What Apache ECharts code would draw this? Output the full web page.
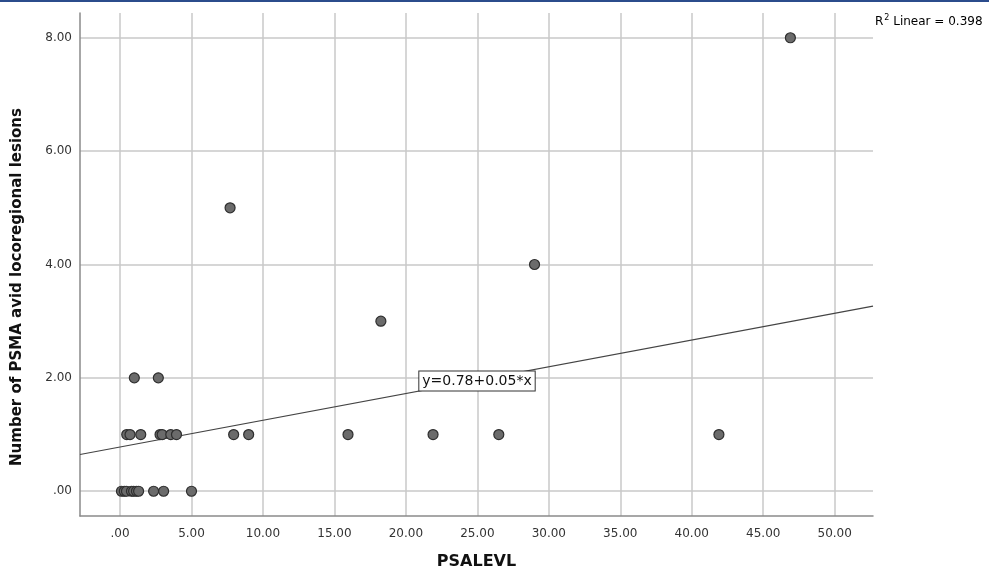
<!DOCTYPE html>
<html>
<head>
<meta charset="utf-8">
<script src="https://cdn.jsdelivr.net/npm/echarts@6/dist/echarts.min.js"></script>
<style>
  html, body { margin: 0; padding: 0; background: #fff; }
  #main { width: 989px; height: 575px; }
</style>
</head>
<body>
<div id="main"></div>
<script>
// PSA level (x) for each patient
var psaLevel = [
  0.1, 0.3, 0.45, 0.8, 0.95, 1.15, 1.3, 2.35, 3.05, 5.0,
  0.47, 0.7, 1.45, 2.8, 2.95, 3.55, 3.95, 7.95, 9.0, 15.95, 21.9, 26.5, 41.9,
  1.0, 2.68,
  18.25, 29.0, 7.7, 46.9
];
// number of lesions (y) for each patient
var lesions = [
  0, 0, 0, 0, 0, 0, 0, 0, 0, 0,
  1, 1, 1, 1, 1, 1, 1, 1, 1, 1, 1, 1, 1,
  2, 2,
  3, 4, 5, 8
];
var xTicks = [0, 5, 10, 15, 20, 25, 30, 35, 40, 45, 50];
var yTicks = [0, 2, 4, 6, 8];
var fitIntercept = 0.78;
var fitSlope = 0.0472;
var fitLabel = 'y=0.78+0.05*x';
var r2Label = '0.398';

var xMin = -2.8, xMax = 52.68;
var yMin = -0.437, yMax = 8.437;

var points = [];
for (var i = 0; i < psaLevel.length; i++) {
  points.push([psaLevel[i], lesions[i]]);
}
var fitLine = [
  [xMin, fitIntercept + fitSlope * xMin],
  [xMax, fitIntercept + fitSlope * xMax]
];

function fmt(v) {
  var s = v.toFixed(2);
  if (s.indexOf('0.') === 0) s = s.substring(1);
  return s;
}

var font = 'DejaVu Sans';
var chart = echarts.init(document.getElementById('main'));
var option = {
  backgroundColor: '#fff',
  animation: false,
  grid: { left: 80, right: 116, top: 13, bottom: 54 },
  xAxis: {
    type: 'value',
    min: xMin,
    max: xMax,
    name: 'PSALEVL',
    nameLocation: 'middle',
    nameGap: 38,
    nameTextStyle: { fontFamily: font, fontWeight: 'bold', fontSize: 16, color: '#111' },
    axisLine: { onZero: false, lineStyle: { color: '#8a8a8a', width: 1.5 } },
    axisTick: { show: false, customValues: xTicks },
    axisLabel: { customValues: xTicks, formatter: fmt, fontFamily: font, fontSize: 12, color: '#333', margin: 12 },
    splitLine: { show: true, lineStyle: { color: '#c8c8c8', width: 1.5 } }
  },
  yAxis: {
    type: 'value',
    min: yMin,
    max: yMax,
    axisLine: { show: true, onZero: false, lineStyle: { color: '#8a8a8a', width: 1.5 } },
    axisTick: { show: false, customValues: yTicks },
    axisLabel: { customValues: yTicks, formatter: fmt, fontFamily: font, fontSize: 12, color: '#333', margin: 8 },
    splitLine: { show: true, lineStyle: { color: '#c8c8c8', width: 1.5 } }
  },
  series: [
    {
      type: 'line',
      data: fitLine,
      symbol: 'none',
      lineStyle: { color: '#444', width: 1.2 },
      silent: true,
      z: 2
    },
    {
      type: 'scatter',
      data: points,
      symbolSize: 10,
      itemStyle: { color: '#6b6b6b', borderColor: '#2e2e2e', borderWidth: 1.2, opacity: 1 },
      z: 3
    }
  ],
  graphic: [
    // blue strip along top
    { type: 'rect', left: 0, top: 0, shape: { width: 989, height: 2 }, style: { fill: '#2b4c8c' } },
    {
      type: 'text', rotation: Math.PI / 2, x: 17, y: 287,
      style: {
        text: 'Number of PSMA avid locoregional lesions',
        font: 'bold 15px ' + font, fill: '#111',
        align: 'center', verticalAlign: 'middle'
      }
    },
    {
      type: 'text', x: 875, y: 14,
      style: {
        text: '{b|R}{s|2}{b| Linear = ' + r2Label + '}',
        rich: {
          b: { fontFamily: font, fontSize: 12, color: '#222', verticalAlign: 'bottom' },
          s: { fontFamily: font, fontSize: 8, color: '#222', verticalAlign: 'top', padding: [0, 0, 6, 1] }
        }
      }
    },
    {
      type: 'text', x: 477, y: 381, z: 10,
      style: {
        text: fitLabel,
        font: '14px ' + font, fill: '#111',
        align: 'center', verticalAlign: 'middle',
        backgroundColor: '#fff', borderColor: '#333', borderWidth: 1,
        padding: [3, 3, 2, 3]
      }
    }
  ]
};
chart.setOption(option);
</script>
</body>
</html>
